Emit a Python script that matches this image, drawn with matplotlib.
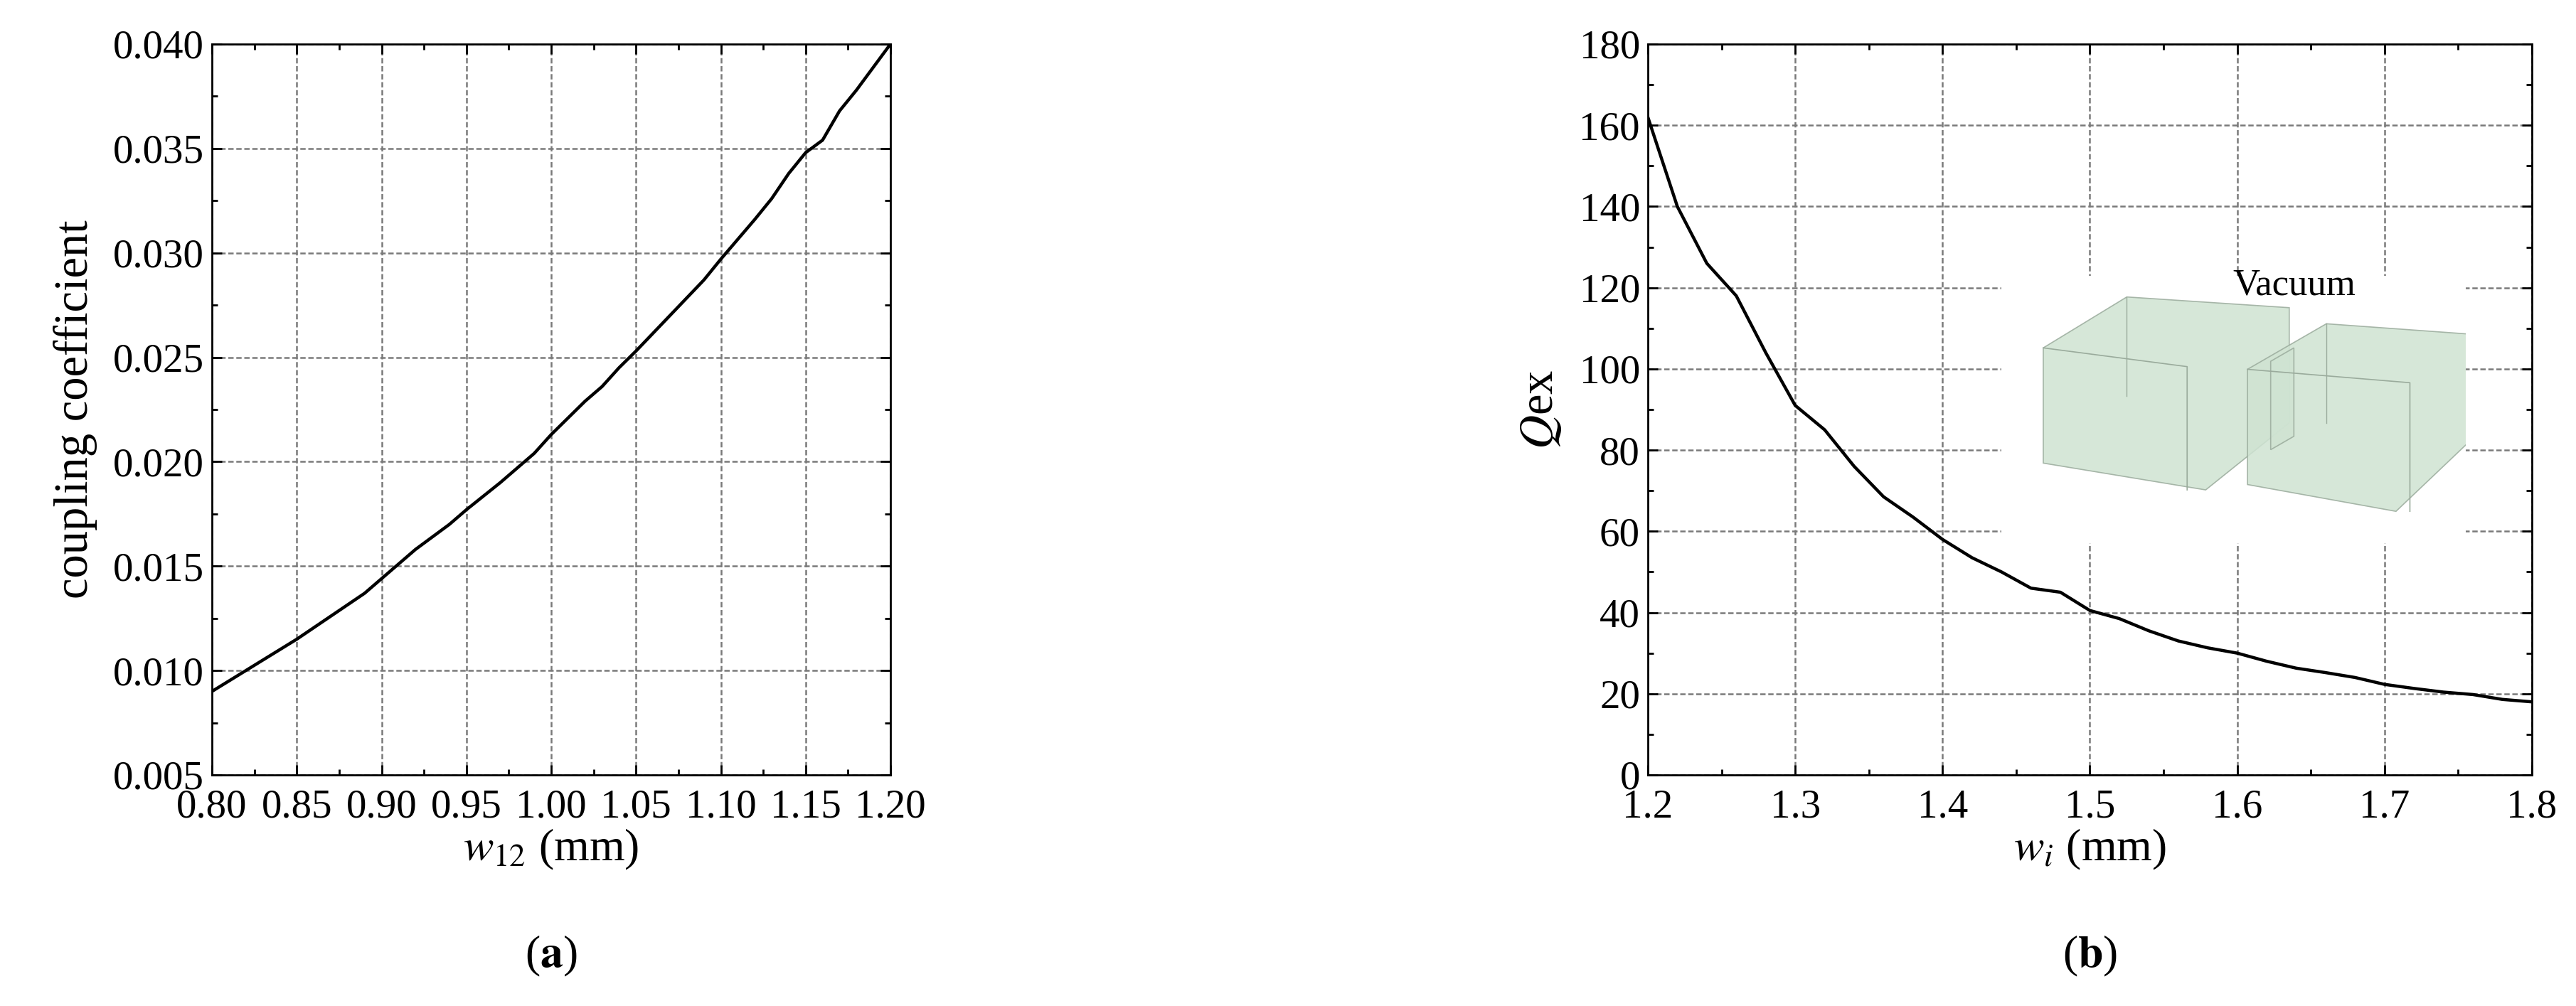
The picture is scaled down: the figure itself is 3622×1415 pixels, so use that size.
import matplotlib.pyplot as plt
from matplotlib.ticker import AutoMinorLocator, MultipleLocator
from matplotlib.patches import Polygon

plt.rcParams["font.family"] = ["Liberation Serif", "DejaVu Serif"]
plt.rcParams["mathtext.fontset"] = "stix"

# (a) coupling coefficient vs w12
w12 = [0.80, 0.82, 0.84, 0.85, 0.87, 0.89, 0.90, 0.92, 0.94, 0.95, 0.97, 0.99,
       1.00, 1.02, 1.03, 1.04, 1.05, 1.07, 1.09, 1.10, 1.12, 1.13, 1.14, 1.15,
       1.16, 1.17, 1.18, 1.20]
coupling = [0.0090, 0.0100, 0.0110, 0.0115, 0.0126, 0.0137, 0.0144, 0.0158,
            0.0170, 0.0177, 0.0190, 0.0204, 0.0213, 0.0229, 0.0236, 0.0245,
            0.0253, 0.0270, 0.0287, 0.0297, 0.0316, 0.0326, 0.0338, 0.0348,
            0.0354, 0.0368, 0.0378, 0.0400]

# (b) external Q vs wi
wi = [1.20, 1.22, 1.24, 1.26, 1.28, 1.30, 1.32, 1.34, 1.36, 1.38, 1.40, 1.42,
      1.44, 1.46, 1.48, 1.50, 1.52, 1.54, 1.56, 1.58, 1.60, 1.62, 1.64, 1.66,
      1.68, 1.70, 1.72, 1.74, 1.76, 1.78, 1.80]
qex = [162, 140, 126, 118, 104, 91, 85, 76, 68.5, 63.5, 58, 53.5, 50, 46, 45,
       40.5, 38.5, 35.5, 33, 31.3, 30, 28, 26.3, 25.2, 24, 22.3, 21.3, 20.4,
       19.8, 18.6, 18]

W, H = 3622, 1415
fig = plt.figure(figsize=(W / 100, H / 100), dpi=100)

top, bot = 1 - 62 / H, 1 - 1090 / H
ax1 = fig.add_axes([298 / W, bot, (1252 - 298) / W, top - bot])
ax2 = fig.add_axes([2317 / W, bot, (3560 - 2317) / W, top - bot])


def style(ax):
    ax.grid(True, color="#7a7a7a", linestyle=(0, (3, 1.5)), linewidth=1.8)
    ax.xaxis.set_minor_locator(AutoMinorLocator(2))
    ax.yaxis.set_minor_locator(AutoMinorLocator(2))
    ax.tick_params(which="both", direction="in", top=True, right=True,
                   labelsize=41, width=2)
    ax.tick_params(axis="x", pad=14)
    ax.tick_params(axis="y", pad=8)
    ax.tick_params(which="major", length=10)
    ax.tick_params(which="minor", length=6)
    for s in ax.spines.values():
        s.set_linewidth(2)


ax1.plot(w12, coupling, color="black", lw=3.2)
ax1.set_xlim(0.80, 1.20)
ax1.set_ylim(0.005, 0.040)
ax1.xaxis.set_major_locator(MultipleLocator(0.05))
ax1.yaxis.set_major_locator(MultipleLocator(0.005))
ax1.xaxis.set_major_formatter(lambda v, p: f"{v:.2f}")
ax1.yaxis.set_major_formatter(lambda v, p: f"{v:.3f}")
style(ax1)
ax1.set_xlabel(r"$\mathit{w}_{\mathit{12}}$ (mm)", fontsize=46, labelpad=2)
ax1.set_ylabel("coupling coefficient", fontsize=48, labelpad=16)

ax2.plot(wi, qex, color="black", lw=3.2, zorder=5)
ax2.set_xlim(1.2, 1.8)
ax2.set_ylim(0, 180)
ax2.xaxis.set_major_locator(MultipleLocator(0.1))
ax2.yaxis.set_major_locator(MultipleLocator(20))
ax2.xaxis.set_major_formatter(lambda v, p: f"{v:.1f}")
style(ax2)
ax2.set_xlabel(r"$\mathit{w}_{\mathit{i}}$ (mm)", fontsize=46, labelpad=2)
ax2.set_ylabel(r"$\mathit{Q}$ex", fontsize=48, labelpad=16)

# inset illustration (white panel with simplified waveguide cavities)
ins = ax2.inset_axes([1.44, 57, 0.315, 66], transform=ax2.transData, zorder=3)
ins.set_xlim(0, 1)
ins.set_ylim(0, 1)
ins.axis("off")
ins.add_patch(plt.Rectangle((0, 0), 1, 1, color="white", zorder=0))
green = "#cfe3d2"
edge = "#9aab9c"
shapes = [
    [(0.09, 0.30), (0.09, 0.73), (0.27, 0.92), (0.62, 0.88), (0.62, 0.45), (0.44, 0.20)],
    [(0.53, 0.22), (0.53, 0.65), (0.70, 0.82), (1.02, 0.78), (1.02, 0.40), (0.85, 0.12)],
    [(0.58, 0.35), (0.58, 0.68), (0.63, 0.73), (0.63, 0.40)],
]
for pts in shapes:
    ins.add_patch(Polygon(pts, closed=True, fc=green, ec=edge, lw=1.2, alpha=0.85))
ins.plot([0.09, 0.40, 0.40], [0.73, 0.66, 0.20], color=edge, lw=1.2)
ins.plot([0.27, 0.27], [0.92, 0.55], color=edge, lw=1.0)
ins.plot([0.53, 0.88, 0.88], [0.65, 0.60, 0.12], color=edge, lw=1.2)
ins.plot([0.70, 0.70], [0.82, 0.45], color=edge, lw=1.0)
ins.text(0.63, 0.90, "Vacuum", fontsize=38, ha="center", va="bottom")

fig.text((298 + 1252) / 2 / W, 1 - 1345 / H, r"($\mathbf{a}$)", fontsize=46,
         ha="center", va="center")
fig.text((2317 + 3560) / 2 / W, 1 - 1345 / H, r"($\mathbf{b}$)", fontsize=46,
         ha="center", va="center")

fig.savefig("out.png", dpi=100)
